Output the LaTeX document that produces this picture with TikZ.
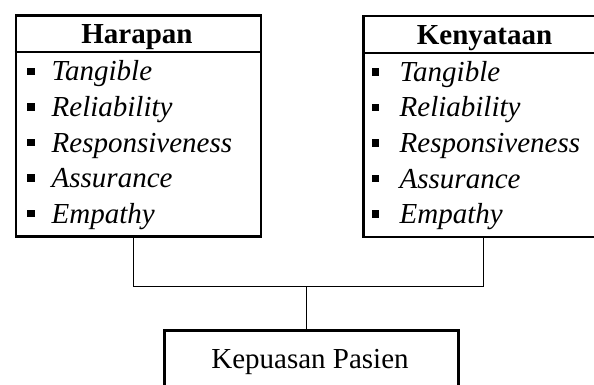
\documentclass[tikz,border=0pt]{standalone}
\usepackage{fontspec}
\setmainfont{Liberation Serif}
\begin{document}
\begin{tikzpicture}[x=1pt,y=-1pt,
  box/.style={draw,line width=2.7pt,inner sep=0pt},
  conn/.style={line width=1pt},
  item/.style={anchor=base west,inner sep=0pt,font=\fontsize{29}{34}\selectfont\itshape},
  head/.style={anchor=base,inner sep=0pt,font=\fontsize{29}{34}\selectfont\bfseries},
  plain/.style={anchor=base,inner sep=0pt,font=\fontsize{29}{34}\selectfont},
  bul/.style={fill=black,minimum size=7.5pt,inner sep=0pt}]
\useasboundingbox (0,0) rectangle (594,385);
\begin{scope}
\clip (0,0) rectangle (594,385);
% boxes
\node[box,minimum width=245pt,minimum height=221pt,anchor=north west] (L) at (14.7,14) {};
\node[box,minimum width=245pt,minimum height=221pt,anchor=north west] (R) at (362,14.7) {};
\node[box,minimum width=294pt,minimum height=80pt,anchor=north west] (K) at (163,329) {};
% header separators
\coordinate (h1) at (0,52);
\coordinate (h2) at (0,53);
\draw[line width=2.7pt] (L.west |- h1) -- (L.east |- h1);
\draw[line width=2.7pt] (R.west |- h2) -- (R.east |- h2);
% headers
\node[head] (hl) at (137,44) {Harapan};
\node[head] (hr) at (484.5,44.5) {Kenyataan};
% items
\foreach \t [count=\i from 0] in {Tangible,Reliability,Responsiveness,Assurance,Empathy}{
  \node[item] (li\i) at (51.5,81+35.5*\i) {\t};
  \node[bul] (lb\i) at (31,71.5+35.5*\i) {};
  \node[item] (ri\i) at (399.5,81.5+35.5*\i) {\t};
  \node[bul] (rb\i) at (375.5,72+35.5*\i) {};
}
% bottom text
\node[plain] (kt) at (310,368) {Kepuasan Pasien};
% connectors
\coordinate (cl) at (133,286);
\coordinate (cr) at (483,286);
\coordinate (cm) at (306,286);
\draw[conn] (L.south -| cl) -- (cl) -- (cr) -- (R.south -| cr);
\draw[conn] (cm) -- (K.north -| cm);
\end{scope}
\end{tikzpicture}
\end{document}
